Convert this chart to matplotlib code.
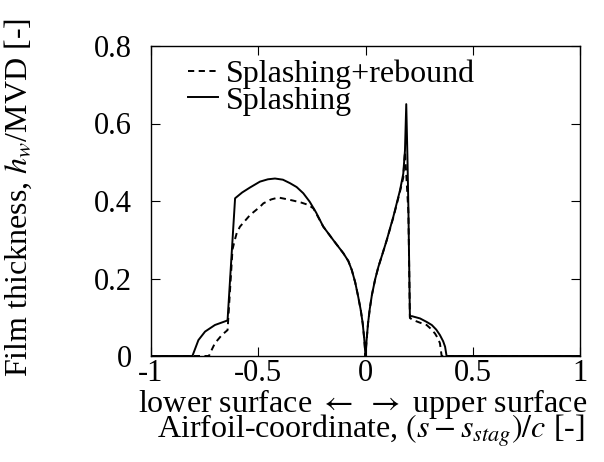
import matplotlib
matplotlib.use("Agg")
import matplotlib.pyplot as plt

plt.rcParams['font.family'] = ['Liberation Serif', 'DejaVu Serif']
plt.rcParams['mathtext.fontset'] = 'stix'

# Splashing (solid)
s_spl = [-1.0, -0.807, -0.779, -0.748, -0.702, -0.647, -0.643, -0.608, -0.575, -0.538,
         -0.492, -0.455, -0.422, -0.385, -0.352, -0.321, -0.290, -0.260, -0.230, -0.197,
         -0.150, -0.103, -0.080, -0.064, -0.048, -0.034, -0.022, -0.013, -0.006, 0.0,
         0.005, 0.012, 0.020, 0.030, 0.045, 0.060, 0.080, 0.099, 0.130, 0.161,
         0.176, 0.184, 0.190, 0.196, 0.200, 0.207, 0.215, 0.254, 0.285, 0.309,
         0.330, 0.347, 0.362, 0.371, 0.378, 1.0]
h_spl = [0.0, 0.0, 0.041, 0.063, 0.080, 0.091, 0.093, 0.407, 0.422, 0.435,
         0.450, 0.456, 0.458, 0.455, 0.446, 0.436, 0.420, 0.398, 0.370, 0.334,
         0.299, 0.265, 0.245, 0.222, 0.190, 0.153, 0.118, 0.084, 0.045, 0.0,
         0.040, 0.085, 0.122, 0.158, 0.198, 0.230, 0.265, 0.299, 0.360, 0.428,
         0.470, 0.530, 0.650, 0.500, 0.380, 0.101, 0.103, 0.097, 0.088, 0.080,
         0.068, 0.054, 0.038, 0.024, 0.0, 0.0]

# Splashing + rebound (dashed)
s_reb = [-1.0, -0.730, -0.716, -0.702, -0.670, -0.643, -0.620, -0.610, -0.600, -0.585,
         -0.538, -0.492, -0.476, -0.440, -0.406, -0.370, -0.337, -0.300, -0.267, -0.243,
         -0.230, -0.197, -0.150, -0.103, -0.080, -0.064, -0.048, -0.034, -0.022, -0.013,
         -0.006, 0.0, 0.005, 0.012, 0.020, 0.030, 0.045, 0.060, 0.080, 0.099,
         0.130, 0.161, 0.176, 0.184, 0.192, 0.200, 0.207, 0.221, 0.254, 0.285,
         0.305, 0.324, 0.338, 0.347, 0.355, 1.0]
h_reb = [0.0, 0.0, 0.017, 0.033, 0.054, 0.067, 0.275, 0.298, 0.318, 0.334,
         0.364, 0.385, 0.394, 0.404, 0.409, 0.405, 0.401, 0.396, 0.390, 0.381,
         0.368, 0.334, 0.299, 0.265, 0.245, 0.222, 0.190, 0.153, 0.118, 0.084,
         0.045, 0.0, 0.040, 0.085, 0.122, 0.158, 0.198, 0.230, 0.265, 0.299,
         0.358, 0.425, 0.460, 0.527, 0.450, 0.370, 0.098, 0.093, 0.086, 0.080,
         0.070, 0.058, 0.045, 0.033, 0.0, 0.0]

xticks = [-1, -0.5, 0, 0.5, 1]
xticklabels = ['-1', '-0.5', '0', '0.5', '1']
yticks = [0, 0.2, 0.4, 0.6, 0.8]
yticklabels = ['0', '0.2', '0.4', '0.6', '0.8']

fs = 23
fig = plt.figure(figsize=(6.04, 4.62), dpi=100)
ax = fig.add_axes([151/604, 106/462, 429/604, 310/462])

ax.plot(s_reb, h_reb, color='black', lw=1.4, ls=(0, (3.2, 2.3)), label='Splashing+rebound')
ax.plot(s_spl, h_spl, color='black', lw=1.4, label='Splashing')

ax.set_xlim(-1, 1)
ax.set_ylim(0, 0.8)
ax.set_xticks(xticks)
ax.set_xticklabels(xticklabels)
ax.set_yticks(yticks)
ax.set_yticklabels(yticklabels)
ax.tick_params(direction='in', top=True, right=True, length=6.5, width=0.8, labelsize=22)
ax.tick_params(axis='x', pad=2)
ax.tick_params(axis='y', pad=14)
for sp in ax.spines.values():
    sp.set_linewidth(1.0)

ax.legend(loc='upper left', bbox_to_anchor=(0.086, 0.955), frameon=False, fontsize=fs,
          handlelength=0.95, handletextpad=0.25, labelspacing=-0.1, borderpad=0, borderaxespad=0)

fig.text(363/604, 1 - 412/462, r'lower surface $\leftarrow$ $\rightarrow$ upper surface',
         ha='center', va='baseline', fontsize=fs)
fig.text(371/604, 1 - 438/462, r'Airfoil-coordinate, $(s - s_{stag})/c$ [-]',
         ha='center', va='baseline', fontsize=fs)
fig.text(18/604, 1 - 197/462, r'Film thickness, $h_w$/MVD [-]', rotation=90,
         ha='center', va='center', fontsize=fs)

fig.savefig('out.png', dpi=100)
